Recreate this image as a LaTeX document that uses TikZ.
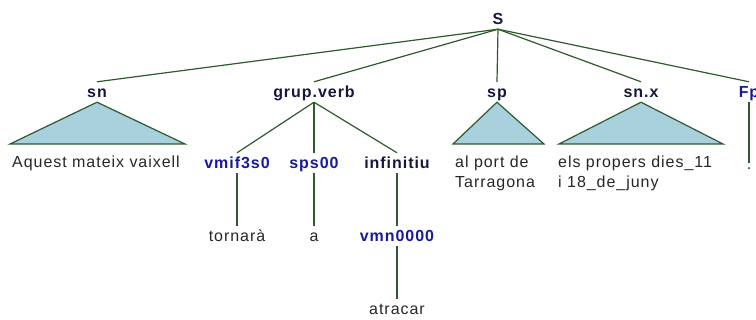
\documentclass[tikz,border=0pt]{standalone}
\usepackage{fontspec}
\setmainfont{Liberation Sans}[LetterSpace=6]
\definecolor{navy}{HTML}{16163F}
\definecolor{tagblue}{HTML}{1818A0}
\definecolor{edge}{HTML}{2E5A2E}
\definecolor{trifill}{HTML}{A9D1DD}
\begin{document}
\begin{tikzpicture}[x=1pt,y=-1pt,
  lab/.style={inner xsep=0pt,inner ysep=4pt,text height=12pt,text depth=0pt,anchor=base,
    font=\fontsize{16}{20}\selectfont\bfseries,text=navy},
  tag/.style={lab,text=tagblue},
  leaf/.style={inner xsep=0pt,inner ysep=4pt,text height=12pt,text depth=0pt,anchor=base,
    font=\fontsize{16}{20}\selectfont,text=black!85},
  mleaf/.style={inner sep=0pt,anchor=north west,align=left,
    font=\fontsize{16}{20}\selectfont,text=black!85},
  br/.style={draw=edge,line width=1.2pt},
  tri/.style={draw=edge,line width=1.2pt,fill=trifill,line join=miter}]
\useasboundingbox (0,0) rectangle (756,320);
% top level
\node[lab] (S) at (498,25) {S};
\node[lab] (sn) at (97,98) {sn};
\node[lab] (gv) at (314,98) {grup.verb};
\node[lab] (sp) at (497,98) {sp};
\node[lab] (snx) at (641,98) {sn.x};
\node[tag] (Fp) at (749,98) {Fp};
\draw[br] (S.south) -- (sn.north);
\draw[br] (S.south) -- (gv.north);
\draw[br] (S.south) -- (sp.north);
\draw[br] (S.south) -- (snx.north);
\draw[br] (S.south) -- (Fp.north);
% triangles
\coordinate (snL) at (10,144); \coordinate (snR) at (185,144);
\coordinate (spL) at (453,144); \coordinate (spR) at (544,144);
\coordinate (snxL) at (559,144); \coordinate (snxR) at (723,144);
\draw[tri] (sn.south) -- (snR) -- (snL) -- cycle;
\draw[tri] (sp.south) -- (spR) -- (spL) -- cycle;
\draw[tri] (snx.south) -- (snxR) -- (snxL) -- cycle;
\node[mleaf] (l1) at (12,156) {Aquest mateix vaixell};
\node[mleaf] (l2) at (455,156) {al port de\\Tarragona};
\node[mleaf] (l3) at (558,156) {els propers dies\_11\\i 18\_de\_juny};
% Fp
\node[inner xsep=0pt,inner ysep=4pt,text height=3pt,text depth=0pt,anchor=base,
  font=\fontsize{16}{20}\selectfont,text=black!85] (dot) at (749,170) {.};
\draw[br] (Fp.south) -- (dot.north);
% grup.verb
\node[tag] (v1) at (237,169) {vmif3s0};
\node[tag] (v2) at (314,169) {sps00};
\node[lab] (v3) at (397,169) {infinitiu};
\draw[br] (gv.south) -- (v1.north);
\draw[br] (gv.south) -- (v2.north);
\draw[br] (gv.south) -- (v3.north);
\node[leaf] (w1) at (237,242) {tornarà};
\node[leaf] (w2) at (314,242) {a};
\node[tag] (v4) at (397,242) {vmn0000};
\draw[br] (v1.south) -- (w1.north);
\draw[br] (v2.south) -- (w2.north);
\draw[br] (v3.south) -- (v4.north);
\node[leaf] (w3) at (397,315) {atracar};
\draw[br] (v4.south) -- (w3.north);
\end{tikzpicture}
\end{document}
